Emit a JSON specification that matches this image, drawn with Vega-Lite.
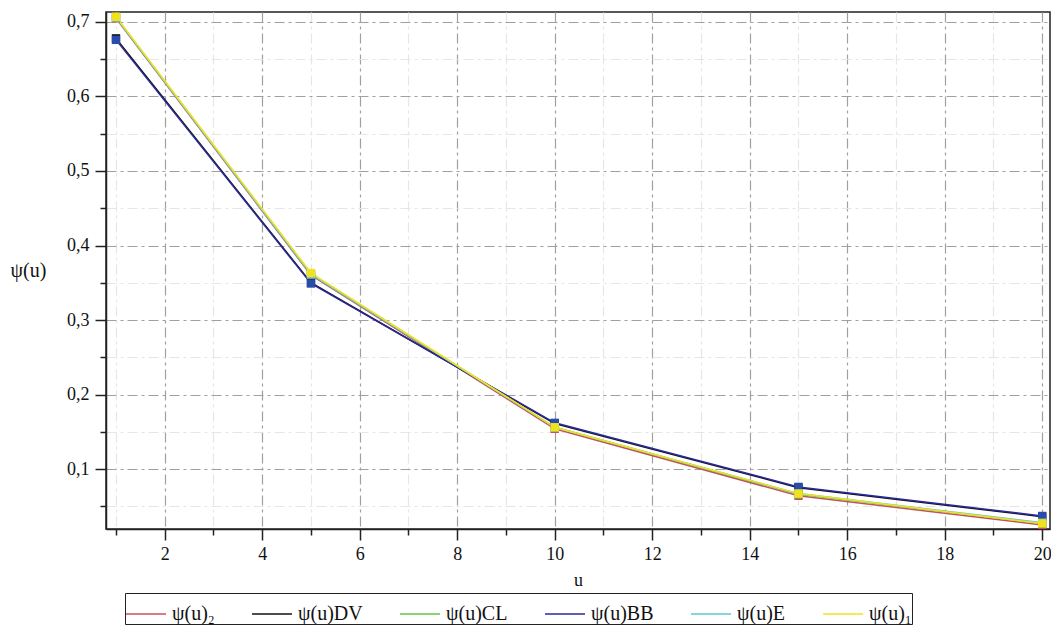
{
  "$schema": "https://vega.github.io/schema/vega-lite/v6.json",
  "width": 944,
  "height": 517,
  "autosize": {"type": "none"},
  "padding": {"left": 106, "top": 12, "right": 1, "bottom": 104},
  "background": "white",
  "config": {
    "view": {"stroke": "#222222", "strokeWidth": 1.5},
    "font": "Liberation Serif"
  },
  "data": {
    "values": [
      {"u": 1, "series": "ψ(u)₂", "psi": 0.705},
      {"u": 5, "series": "ψ(u)₂", "psi": 0.360},
      {"u": 10, "series": "ψ(u)₂", "psi": 0.154},
      {"u": 15, "series": "ψ(u)₂", "psi": 0.064},
      {"u": 20, "series": "ψ(u)₂", "psi": 0.025},
      {"u": 1, "series": "ψ(u)DV", "psi": 0.678},
      {"u": 5, "series": "ψ(u)DV", "psi": 0.350},
      {"u": 10, "series": "ψ(u)DV", "psi": 0.161},
      {"u": 15, "series": "ψ(u)DV", "psi": 0.075},
      {"u": 20, "series": "ψ(u)DV", "psi": 0.036},
      {"u": 1, "series": "ψ(u)CL", "psi": 0.706},
      {"u": 5, "series": "ψ(u)CL", "psi": 0.362},
      {"u": 10, "series": "ψ(u)CL", "psi": 0.156},
      {"u": 15, "series": "ψ(u)CL", "psi": 0.066},
      {"u": 20, "series": "ψ(u)CL", "psi": 0.027},
      {"u": 1, "series": "ψ(u)BB", "psi": 0.676},
      {"u": 5, "series": "ψ(u)BB", "psi": 0.349},
      {"u": 10, "series": "ψ(u)BB", "psi": 0.162},
      {"u": 15, "series": "ψ(u)BB", "psi": 0.076},
      {"u": 20, "series": "ψ(u)BB", "psi": 0.037},
      {"u": 1, "series": "ψ(u)E", "psi": 0.706},
      {"u": 5, "series": "ψ(u)E", "psi": 0.361},
      {"u": 10, "series": "ψ(u)E", "psi": 0.156},
      {"u": 15, "series": "ψ(u)E", "psi": 0.067},
      {"u": 20, "series": "ψ(u)E", "psi": 0.028},
      {"u": 1, "series": "ψ(u)₁", "psi": 0.707},
      {"u": 5, "series": "ψ(u)₁", "psi": 0.363},
      {"u": 10, "series": "ψ(u)₁", "psi": 0.156},
      {"u": 15, "series": "ψ(u)₁", "psi": 0.067},
      {"u": 20, "series": "ψ(u)₁", "psi": 0.027}
    ]
  },
  "encoding": {
    "x": {
      "field": "u",
      "type": "quantitative",
      "scale": {"domain": [0.795, 20.16], "nice": false, "zero": false},
      "axis": {
        "title": "u",
        "titleFont": "Liberation Serif",
        "titleFontSize": 18,
        "titleFontWeight": "normal",
        "titleColor": "#111111",
        "titlePadding": 8,
        "values": [1,2,3,4,5,6,7,8,9,10,11,12,13,14,15,16,17,18,19,20],
        "labelExpr": "datum.value % 2 == 0 ? datum.label : ''",
        "labelFont": "Liberation Serif",
        "labelFontSize": 18,
        "labelColor": "#111111",
        "labelPadding": 5,
        "labelFlush": false,
        "domainColor": "#222222",
        "domainWidth": 1.5,
        "tickColor": "#222222",
        "tickWidth": 1.5,
        "tickSize": {"condition": {"test": "datum.value % 2 == 0", "value": 11}, "value": 6},
        "grid": true,
        "gridColor": {"condition": {"test": "datum.value % 2 == 0", "value": "#a0a0a0"}, "value": "#e6e6e6"},
        "gridDash": [10, 4, 3, 4],
        "gridWidth": 1.2
      }
    },
    "y": {
      "field": "psi",
      "type": "quantitative",
      "scale": {"domain": [0.0195, 0.7134], "nice": false, "zero": false},
      "axis": {
        "title": "ψ(u)",
        "titleAngle": 0,
        "titleX": -78,
        "titleY": 258,
        "titleAlign": "center",
        "titleBaseline": "middle",
        "titleFont": "Liberation Serif",
        "titleFontSize": 20,
        "titleFontWeight": "normal",
        "titleColor": "#111111",
        "values": [0.05,0.1,0.15,0.2,0.25,0.3,0.35,0.4,0.45,0.5,0.55,0.6,0.65,0.7],
        "labelExpr": "round(datum.value*100) % 10 == 0 ? replace(format(datum.value, '.1f'), '.', ',') : ''",
        "labelFont": "Liberation Serif",
        "labelFontSize": 18,
        "labelColor": "#111111",
        "labelPadding": 6,
        "labelFlush": false,
        "domainColor": "#222222",
        "domainWidth": 1.5,
        "tickColor": "#222222",
        "tickWidth": 1.5,
        "tickSize": {"condition": {"test": "round(datum.value*100) % 10 == 0", "value": 11}, "value": 6},
        "grid": true,
        "gridColor": {"condition": {"test": "round(datum.value*100) % 10 == 0", "value": "#a0a0a0"}, "value": "#e6e6e6"},
        "gridDash": [10, 4, 3, 4],
        "gridWidth": 1.2
      }
    }
  },
  "layer": [
    {
      "mark": {"type": "line", "strokeWidth": 1.5},
      "encoding": {
        "color": {
          "field": "series",
          "type": "nominal",
          "scale": {
            "domain": ["ψ(u)₂", "ψ(u)DV", "ψ(u)CL", "ψ(u)BB", "ψ(u)E", "ψ(u)₁"],
            "range": ["#c8505e", "#111111", "#66c244", "#2a2a9c", "#5cc6d6", "#f2e21c"]
          },
          "sort": null,
          "legend": {
            "orient": "none",
            "legendX": 19,
            "legendY": 581,
            "direction": "horizontal",
            "columns": 6,
            "title": null,
            "strokeColor": "#222222",
            "padding": 0,
            "symbolType": "stroke",
            "symbolSize": 1600,
            "symbolStrokeWidth": 1.5,
            "labelFont": "Liberation Serif",
            "labelFontSize": 20,
            "labelColor": "#111111",
            "labelOffset": 5,
            "columnPadding": 34,
            "labelLimit": 200
          }
        }
      }
    },
    {
      "mark": {"type": "point", "shape": "square", "filled": true, "size": 70, "opacity": 1},
      "encoding": {
        "fill": {
          "field": "series",
          "type": "nominal",
          "scale": {
            "domain": ["ψ(u)₂", "ψ(u)DV", "ψ(u)CL", "ψ(u)BB", "ψ(u)E", "ψ(u)₁"],
            "range": ["#c8505e", "#111111", "#66c244", "#2a4aac", "#5cc6d6", "#f2e21c"]
          },
          "legend": null
        }
      }
    }
  ]
}
